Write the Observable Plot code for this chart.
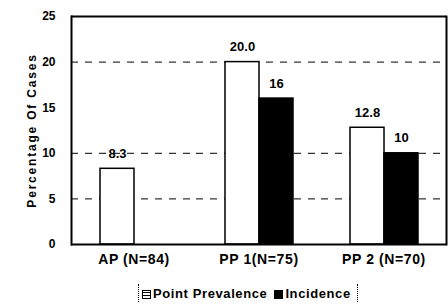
<!DOCTYPE html>
<html><head><meta charset="utf-8">
<script src="https://cdn.jsdelivr.net/npm/d3@7"></script>
<script src="https://cdn.jsdelivr.net/npm/@observablehq/plot@0.6"></script>
<style>
body{margin:0;background:#fff;font-family:"Liberation Sans",Arial,sans-serif;}
#chart{width:448px;height:308px;position:relative;}
#chart svg [aria-label="y-axis label"] text{letter-spacing:1.8px;}
#chart svg [aria-label="fx-axis tick label"] text{letter-spacing:0.6px;}
.legend{position:absolute;left:138px;top:284px;height:18px;display:flex;align-items:center;gap:7px;
  font-weight:bold;font-size:13px;letter-spacing:0.6px;border-left:1px dotted #000;border-right:1px dotted #000;padding:0 6px 0 3px;color:#000;}
.sw{display:inline-block;width:9px;height:9px;border:1.5px solid #000;margin-right:2px;vertical-align:middle;box-sizing:border-box;}
.sw.pp{background:repeating-linear-gradient(0deg,#fff 0 2px,#000 2px 3px);}
.sw.inc{background:#000;}
</style></head><body><div id="chart"></div>
<script>
const categories = ["AP (N=84)", "PP 1(N=75)", "PP 2 (N=70)"];
const series = ["Point Prevalence", "Incidence"];
const pointPrevalence = [8.3, 20.0, 12.8];
const incidence = [null, 16, 10];
const pointLabels = ["8.3", "20.0", "12.8"];
const incidenceLabels = [null, "16", "10"];
const yTicks = [0, 5, 10, 15, 20, 25];
const gridTicks = [5, 10, 20];
const seriesColors = ["#fff", "#000"];

const rows = [];
categories.forEach((c, i) => {
  rows.push({category: c, series: series[0], value: pointPrevalence[i], label: pointLabels[i]});
  if (incidence[i] != null) rows.push({category: c, series: series[1], value: incidence[i], label: incidenceLabels[i]});
});

const font = '"Liberation Sans", Arial, sans-serif';
const plot = Plot.plot({
  width: 448, height: 282,
  marginLeft: 71, marginRight: 2, marginTop: 16, marginBottom: 38,
  style: {fontFamily: font, fontSize: "12px", fontWeight: "bold", color: "#000", background: "#fff"},
  fx: {domain: categories, padding: 0, label: null, axis: null},
  x: {domain: series, paddingInner: 0, paddingOuter: 0.79, axis: null},
  y: {domain: [0, 25], axis: null},
  color: {domain: series, range: seriesColors},
  marks: [
    Plot.ruleY(gridTicks, {stroke: "#000", strokeWidth: 1, strokeDasharray: "7,7"}),
    Plot.barY(rows, {fx: "category", x: "series", y: "value", fill: "series", stroke: "#000", strokeWidth: 1.5}),
    Plot.text(rows, {fx: "category", x: "series", y: "value", text: "label", dy: -15, fontSize: 13, fontWeight: "bold", fill: "#000"}),
    Plot.ruleY([0, 25], {stroke: "#000", strokeWidth: 2}),
    Plot.frame({anchor: "left", facetAnchor: "left", stroke: "#000", strokeWidth: 2}),
    Plot.frame({anchor: "right", facetAnchor: "right", stroke: "#000", strokeWidth: 2}),
    Plot.axisY({ticks: yTicks, tickSize: 0, tickPadding: 16, fontSize: 12, label: "Percentage Of Cases", labelAnchor: "center", labelOffset: 44, labelArrow: "none"}),
    Plot.axisFx({anchor: "bottom", tickSize: 0, tickPadding: 10, fontSize: 14, label: null})
  ]
});
const chart = document.getElementById("chart");
chart.appendChild(plot);
const legend = document.createElement("div");
legend.className = "legend";
legend.innerHTML = series.map((s, i) => `<span><span class="sw ${i === 0 ? "pp" : "inc"}"></span>${s}</span>`).join("");
chart.appendChild(legend);
</script></body></html>
